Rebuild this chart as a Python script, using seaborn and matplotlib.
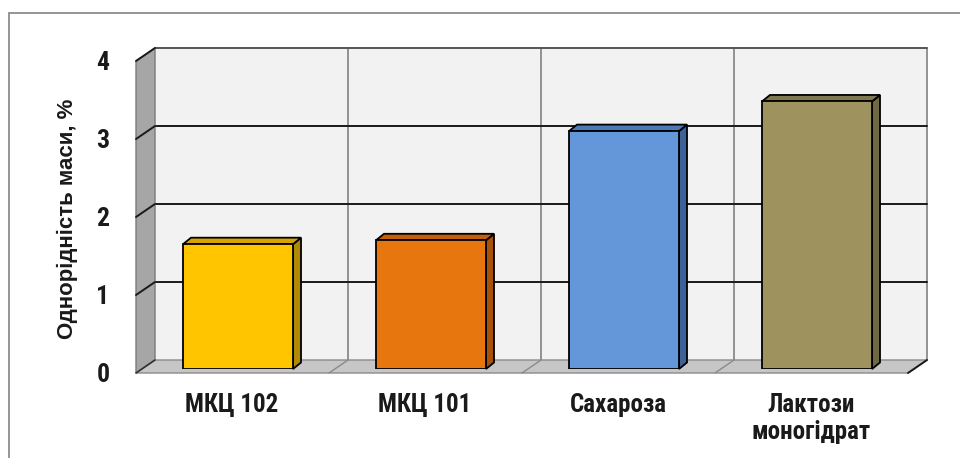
import matplotlib
matplotlib.use("Agg")
import matplotlib.pyplot as plt
from matplotlib import font_manager
from matplotlib.patches import Polygon, Rectangle
from matplotlib.lines import Line2D
from matplotlib.transforms import ScaledTranslation
import numpy as np
import pandas as pd
import seaborn as sns

# ---- data -------------------------------------------------------------
categories = ["МКЦ 102", "МКЦ 101", "Сахароза", "Лактози\nмоногідрат"]
values = [1.60, 1.65, 3.05, 3.43]
y_ticks = [0, 1, 2, 3, 4]
y_label = "Однорідність маси, %"

# ---- colours ----------------------------------------------------------
front_colors = ["#FFC600", "#E8760E", "#6497D9", "#9E935E"]
side_colors = ["#B08A00", "#A85209", "#3D629A", "#6E6843"]
top_colors = ["#D6A400", "#C4600B", "#4C79B6", "#7F7750"]

sns.set_theme(style="white")
available = {f.name for f in font_manager.fontManager.ttflist}
narrow = next((n for n in ["Liberation Sans Narrow", "DejaVu Sans Condensed",
                           "Roboto Condensed", "Liberation Sans"]
               if n in available), "DejaVu Sans")
plt.rcParams["font.family"] = ["Liberation Sans", "DejaVu Sans"]

W, H = 960, 458
fig = plt.figure(figsize=(W / 100, H / 100), dpi=100)
fig.patch.set_facecolor("white")

# axes cover the front plane of the bars
left_px, right_px = 141.5, 913.5
top_px, bottom_px = 57, 369
ax = fig.add_axes([left_px / W, (H - bottom_px) / H,
                   (right_px - left_px) / W, (bottom_px - top_px) / H])
ax.set_facecolor("none")

df = pd.DataFrame({"cat": categories, "val": values})
sns.barplot(data=df, x="cat", y="val", hue="cat", palette=front_colors,
            saturation=1, width=0.57, edgecolor="black", linewidth=1.3,
            legend=False, ax=ax, zorder=5)
ax.set_xlim(-0.5, 3.5)
ax.set_ylim(0, 4)
for s in ax.spines.values():
    s.set_visible(False)
ax.grid(False)

# depth offsets (display pixels) for the pseudo-3D box
BACK = np.array([13.5, 9.0])
FRONT = np.array([-5.5, -4.0])
BAR = np.array([8.0, 6.5])

to_disp = ax.transData.transform
to_data = ax.transData.inverted().transform


def pt(x, y, off=(0.0, 0.0)):
    return to_disp((x, y)) + np.asarray(off)


def poly(points, **kw):
    p = Polygon(to_data(np.array(points)), closed=True, clip_on=False, **kw)
    ax.add_patch(p)


def seg(a, b, **kw):
    d = to_data(np.array([a, b]))
    ax.add_line(Line2D(d[:, 0], d[:, 1], clip_on=False, **kw))


x0, x1 = -0.5, 3.5
ymax = 4

# back wall
poly([pt(x0, 0, BACK), pt(x1, 0, BACK), pt(x1, ymax, BACK), pt(x0, ymax, BACK)],
     facecolor="#f2f2f2", edgecolor="none", zorder=0)
for xv in [0.5, 1.5, 2.5, 3.5]:
    seg(pt(xv, 0, BACK), pt(xv, ymax, BACK), color="#8a8a8a", lw=1.3, zorder=1)
for yv in y_ticks[1:]:
    seg(pt(x0, yv, BACK), pt(x1, yv, BACK),
        color="#1a1a1a" if yv < ymax else "#555555", lw=1.4, zorder=1.2)

# side wall
poly([pt(x0, 0, FRONT), pt(x0, ymax, FRONT), pt(x0, ymax, BACK), pt(x0, 0, BACK)],
     facecolor="#a6a6a6", edgecolor="#7a7a7a", lw=1.0, zorder=2)
for yv in y_ticks[1:]:
    seg(pt(x0, yv, FRONT), pt(x0, yv, BACK), color="#1a1a1a", lw=1.4, zorder=2.2)

# floor
poly([pt(x0, 0, FRONT), pt(x1, 0, FRONT), pt(x1, 0, BACK), pt(x0, 0, BACK)],
     facecolor="#c6c6c6", edgecolor="#8a8a8a", lw=1.0, zorder=2)
for xv in [0.5, 1.5, 2.5]:
    seg(pt(xv, 0, FRONT), pt(xv, 0, BACK), color="#8a8a8a", lw=1.0, zorder=2.1)
seg(pt(x1, 0, FRONT), pt(x1, 0, BACK), color="#1a1a1a", lw=1.4, zorder=2.2)
seg(pt(x0, 0, FRONT), pt(x0, 0, BACK), color="#333333", lw=1.2, zorder=2.2)

# side and top faces of the bars
for i, bar in enumerate(ax.patches[:len(values)]):
    bx, bw, bh = bar.get_x(), bar.get_width(), bar.get_height()
    bar.set_zorder(5)
    poly([pt(bx + bw, 0), pt(bx + bw, bh), pt(bx + bw, bh, BAR), pt(bx + bw, 0, BAR)],
         facecolor=side_colors[i], edgecolor="black", lw=1.3, zorder=4.9)
    poly([pt(bx, bh), pt(bx + bw, bh), pt(bx + bw, bh, BAR), pt(bx, bh, BAR)],
         facecolor=top_colors[i], edgecolor="black", lw=1.3, zorder=4.9)

# ticks and labels
ax.set_yticks(y_ticks)
ax.set_yticklabels([str(t) for t in y_ticks], fontsize=18.5, fontweight="bold",
                   family=[narrow, "DejaVu Sans"], color="#1a1a1a")
ax.tick_params(axis="y", length=0, pad=23)
ax.set_xticks(range(len(categories)))
ax.set_xticklabels(categories, fontsize=18, fontweight="bold",
                   family=[narrow, "DejaVu Sans"], color="#1a1a1a")
ax.tick_params(axis="x", length=0, pad=17)
ax.set_xlabel("")

dy_shift = ScaledTranslation(0, -4 / 100, fig.dpi_scale_trans)
for tick in ax.yaxis.get_major_ticks():
    tick.label1.set_transform(tick.label1.get_transform() + dy_shift)
dx_shift = ScaledTranslation(-6 / 100, 0, fig.dpi_scale_trans)
for tick in ax.xaxis.get_major_ticks():
    tick.label1.set_transform(tick.label1.get_transform() + dx_shift)
    tick.label1.set_linespacing(1.2)

ax.set_ylabel(y_label, fontsize=16, fontweight="bold", color="#1a1a1a")
ax.yaxis.set_label_coords((78 - left_px) / (right_px - left_px),
                          (bottom_px - 219) / (bottom_px - top_px))

# outer chart border
fig.add_artist(Rectangle((9 / W, -0.1), 1.2, 445 / H + 0.1,
                         transform=fig.transFigure, fill=False,
                         edgecolor="#8c8c8c", lw=1.3))

fig.savefig("out.png", dpi=100)
